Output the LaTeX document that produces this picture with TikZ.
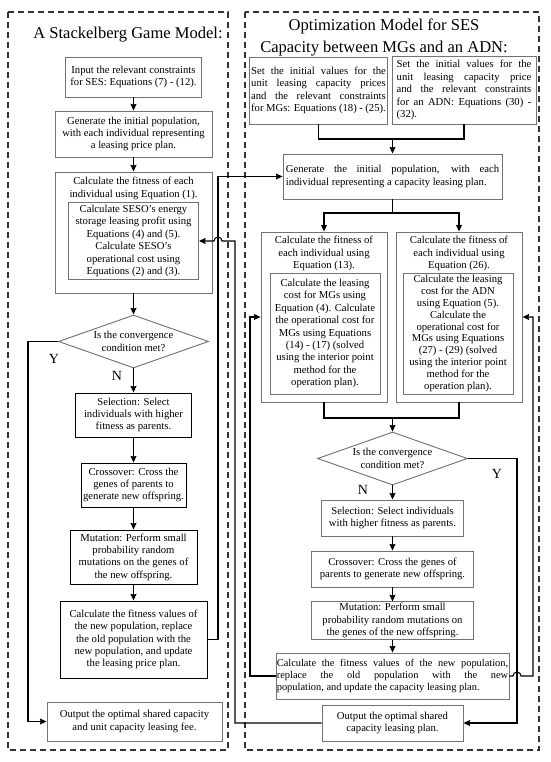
\documentclass[tikz,border=0pt]{standalone}
\usepackage{fontspec}
\setmainfont{Liberation Serif}
\usetikzlibrary{shapes.geometric,arrows.meta}
\newcommand{\bodyfont}{\fontsize{8}{9.3}\selectfont}
\newcommand{\titlefont}{\fontsize{12.4}{16.5}\selectfont}
\newcommand{\pxu}{0.75pt}

\begin{document}
\begin{tikzpicture}[x=0.75pt,y=-0.75pt,
  sz/.style 2 args={minimum width=#1*\pxu,minimum height=#2*\pxu},
  gbox/.style={draw=black!55,line width=0.7pt,align=center,inner sep=1pt,font=\bodyfont},
  bbox/.style={draw=black,line width=0.7pt,align=center,inner sep=1pt,font=\bodyfont},
  jbox/.style={gbox,align=justify},
  txt/.style={align=center,inner sep=0pt,font=\bodyfont},
  dec/.style={diamond,draw=black!55,line width=0.7pt,aspect=2.8,inner sep=0pt,sz={150}{53},align=center,font=\bodyfont},
  panel/.style={draw=black!80,line width=0.9pt,dash pattern=on 4.5pt off 3pt},
  ln/.style={line width=0.8pt},
  arr/.style={ln,-{Stealth[length=5pt,width=4.5pt,inset=0.6pt]}},
  yn/.style={font=\fontsize{10.5}{10.5}\selectfont,inner sep=0pt}]
\useasboundingbox (0,0) rectangle (550,762);

% two model panels
\draw[panel] (8,12) rectangle (228,750);
\draw[panel] (245,12) rectangle (539,750);
\node[font=\titlefont] (ttlgame) at (128,35) {A Stackelberg Game Model:};
\node[font=\titlefont,align=center] (ttlopt) at (384,37) {Optimization Model for SES\\Capacity between MGs and an ADN:};

% left: leader model
\node[gbox,sz={136}{40}] (in1) at (133.5,77) {Input the relevant constraints\\for SES: Equations (7) - (12).};
\node[gbox,sz={157}{46}] (gen1) at (133.5,134) {Generate the initial population,\\with each individual representing\\a leasing price plan.};
\node[gbox,sz={157}{121}] (fit1) at (133.5,232.5) {};
\node[txt] (fit1t) at (133.5,188.5) {Calculate the fitness of each\\individual using Equation (1).};
\node[gbox,sz={130}{77}] (seso1) at (133.5,241) {Calculate SESO's energy\\storage leasing profit using\\Equations (4) and (5).\\Calculate SESO's\\operational cost using\\Equations (2) and (3).};
\node[dec] (conv1) at (133.5,341.5) {Is the convergence\\condition met?};
\node[bbox,sz={116}{44}] (sel1) at (133.5,415) {Selection: Select\\individuals with higher\\fitness as parents.};
\node[bbox,sz={105}{44}] (cross1) at (133.5,485) {Crossover: Cross the\\genes of parents to\\generate new offspring.};
\node[bbox,sz={127}{54}] (mut1) at (133.5,557) {Mutation: Perform small\\probability random\\mutations on the genes of\\the new offspring.};
\node[bbox,sz={147}{77}] (upd1) at (133.5,639.5) {Calculate the fitness values of\\the new population, replace\\the old population with the\\new population, and update\\the leasing price plan.};
\node[gbox,sz={175}{39}] (out1) at (134.5,721.5) {Output the optimal shared capacity\\and unit capacity leasing fee.};

\draw[arr] (in1) -- (gen1);
\draw[arr] (gen1) -- (fit1);
\draw[arr] (fit1) -- (conv1);
\draw[arr] (conv1) -- (sel1);
\draw[arr] (sel1) -- (cross1);
\draw[arr] (cross1) -- (mut1);
\draw[arr] (mut1) -- (upd1);
\coordinate (yl) at (28,500);
\draw[arr] (conv1.west) -| (yl) |- (out1.west);
\node[yn] (yl1) at (54,359) {Y};
\node[yn] (nl1) at (117,376) {N};

% right: follower model
\node[jbox,text width=101pt,sz={137}{67}] (setA) at (318.5,90.5) {Set the initial values for the\linebreak unit leasing capacity prices\linebreak and the relevant constraints\linebreak for MGs: Equations (18) - (25).};
\node[jbox,text width=101pt,sz={144}{68}] (setB) at (464,90) {Set the initial values for the\linebreak unit leasing capacity price\linebreak and the relevant constraints\linebreak for an ADN: Equations (30) -\linebreak (32).};
\node[jbox,text width=160pt,sz={219}{45}] (genC) at (392.5,176.5) {Generate the initial population, with each\linebreak individual representing a capacity leasing plan.};
\node[gbox,sz={126}{170}] (fitD) at (324,317) {};
\node[txt] (fitDt) at (324,253.5) {Calculate the fitness of\\each individual using\\Equation (13).};
\node[gbox,sz={110}{121}] (mgD) at (325,333.5) {Calculate the leasing\\cost for MGs using\\Equation (4). Calculate\\the operational cost for\\MGs using Equations\\(14) - (17) (solved\\using the interior point\\method for the\\operation plan).};
\node[gbox,sz={126}{170}] (fitE) at (459,317) {};
\node[txt] (fitEt) at (459,253.5) {Calculate the fitness of\\each individual using\\Equation (26).};
\node[gbox,sz={110}{121},font=\fontsize{8}{8.9}\selectfont] (adnE) at (458,333.5) {Calculate the leasing\\cost for the ADN\\using Equation (5).\\Calculate the\\operational cost for\\MGs using Equations\\(27) - (29) (solved\\using the interior point\\method for the\\operation plan).};
\node[dec] (conv2) at (392.5,458.5) {Is the convergence\\condition met?};
\node[gbox,sz={142}{36}] (sel2) at (392.5,518) {Selection: Select individuals\\with higher fitness as parents.};
\node[gbox,sz={162}{36}] (cross2) at (392.5,569) {Crossover: Cross the genes of\\parents to generate new offspring.};
\node[gbox,sz={162}{37}] (mut2) at (392.5,620.5) {Mutation: Perform small\\probability random mutations on\\the genes of the new offspring.};
\node[jbox,text width=173.5pt,inner sep=0.5pt,sz={233}{46},font=\fontsize{7.8}{9.3}\selectfont] (upd2) at (392.5,676) {Calculate the fitness values of the new population,\linebreak replace the old population with the new\linebreak population, and update the capacity leasing plan.};
\node[gbox,sz={141}{36}] (out2) at (392.5,723) {Output the optimal shared\\capacity leasing plan.};

\coordinate (mAB) at (392.5,139);
\draw[ln] (setA.south) |- (mAB) -| (setB.south);
\draw[arr] (mAB) -- (genC.north);
\coordinate (mC) at (392.5,213);
\draw[ln] (genC.south) -- (mC);
\draw[arr] (mC) -| (fitD.north);
\draw[arr] (mC) -| (fitE.north);
\coordinate (mDE) at (392.5,418);
\draw[ln] (fitD.south) |- (mDE) -| (fitE.south);
\draw[arr] (mDE) -- (conv2.north);
\draw[arr] (conv2) -- (sel2);
\draw[arr] (sel2) -- (cross2);
\draw[arr] (cross2) -- (mut2);
\draw[arr] (mut2) -- (upd2);
\coordinate (yr) at (517,600);
\draw[arr] (conv2.east) -| (yr) |- (out2.east);
\node[yn] (nl2) at (363,490) {N};
\node[yn] (yl2) at (497,474) {Y};
\coordinate (lpr) at (533,500);
\draw[arr] (upd2.east) -- (513,676) arc (180:0:3pt) -- (lpr |- upd2.east) |- (fitE.east);
\coordinate (lpl) at (250,500);
\draw[arr] (upd2.west) -| (lpl) |- (fitD.west);

% links between the two models
\coordinate (lk1) at (218,400);
\draw[arr] (upd1.east) -| (lk1) |- (genC.west);
\coordinate (lk2) at (235,500);
\draw[arr] (out2.west) -| (lk2 |- seso1.east) -- (222,241) arc (0:180:3pt) -- (seso1.east);
\end{tikzpicture}
\end{document}
